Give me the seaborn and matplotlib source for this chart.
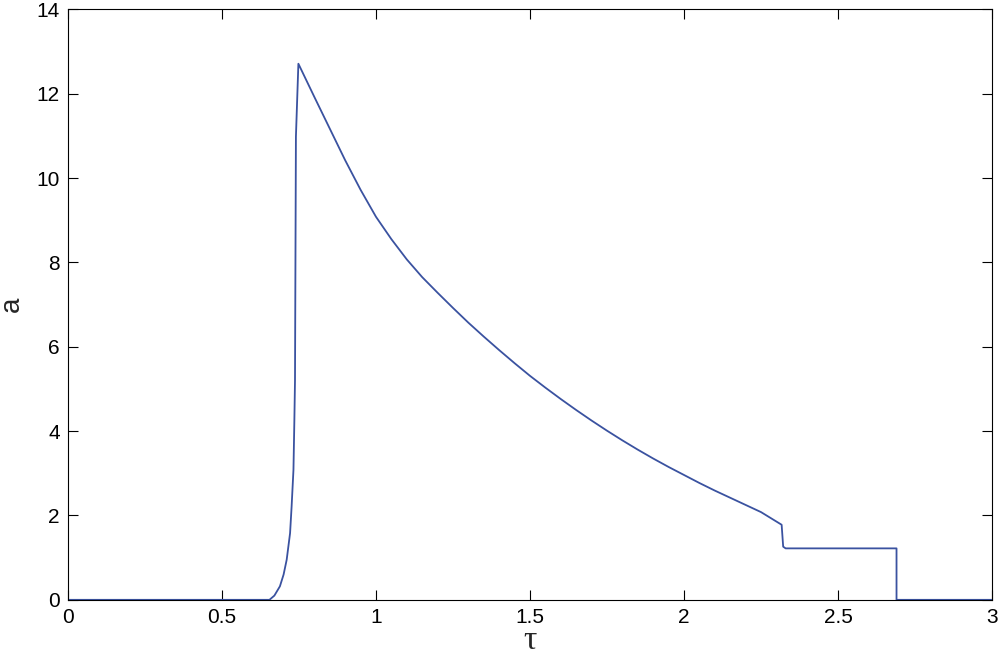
import matplotlib
matplotlib.use('Agg')
import matplotlib.pyplot as plt
import pandas as pd
import seaborn as sns

# tau values (x) and a values (y)
tau = [0.0, 0.60, 0.654, 0.670, 0.688, 0.700, 0.710, 0.721, 0.726, 0.732, 0.735,
       0.737, 0.740, 0.748, 0.80, 0.85, 0.90, 0.95, 1.00, 1.05, 1.10, 1.15,
       1.20, 1.25, 1.30, 1.35, 1.40, 1.45, 1.50, 1.55, 1.60, 1.65, 1.70,
       1.75, 1.80, 1.85, 1.90, 1.95, 2.00, 2.05, 2.10, 2.15, 2.20, 2.25,
       2.317, 2.322, 2.330, 2.690, 2.690, 3.0]
a = [0.0, 0.0, 0.0, 0.10, 0.32, 0.60, 0.95, 1.58, 2.21, 3.08, 4.27,
     5.20, 10.98, 12.71, 11.92, 11.17, 10.42, 9.72, 9.08, 8.55, 8.07, 7.65,
     7.28, 6.92, 6.57, 6.24, 5.92, 5.61, 5.31, 5.03, 4.76, 4.50, 4.25,
     4.01, 3.78, 3.56, 3.35, 3.15, 2.96, 2.77, 2.59, 2.42, 2.25, 2.08,
     1.78, 1.26, 1.22, 1.22, 0.0, 0.0]

df = pd.DataFrame({'tau': tau, 'a': a})

sns.set_style('ticks')
plt.rcParams['font.family'] = ['Liberation Sans', 'DejaVu Sans']

fig = plt.figure(figsize=(10, 6.65), dpi=100)
ax = fig.add_axes([0.068, 0.098, 0.924, 0.888])

sns.lineplot(data=df, x='tau', y='a', sort=False, estimator=None,
             color='#3a52a0', linewidth=1.3, ax=ax)

ax.set_xlim(0, 3)
ax.set_ylim(0, 14)
ax.set_xticks([0, 0.5, 1, 1.5, 2, 2.5, 3])
ax.set_xticklabels(['0', '0.5', '1', '1.5', '2', '2.5', '3'])
ax.set_yticks(range(0, 15, 2))
ax.tick_params(direction='in', length=7, width=0.8, labelsize=15,
               top=True, right=True, colors='black', pad=6)
for s in ax.spines.values():
    s.set_linewidth(0.8)
    s.set_color('black')

ax.set_xlabel('τ', fontsize=24, family=['Liberation Serif', 'DejaVu Serif'], labelpad=-1)
ax.set_ylabel('a', fontsize=20, labelpad=8)

fig.savefig('out.png', dpi=100)
